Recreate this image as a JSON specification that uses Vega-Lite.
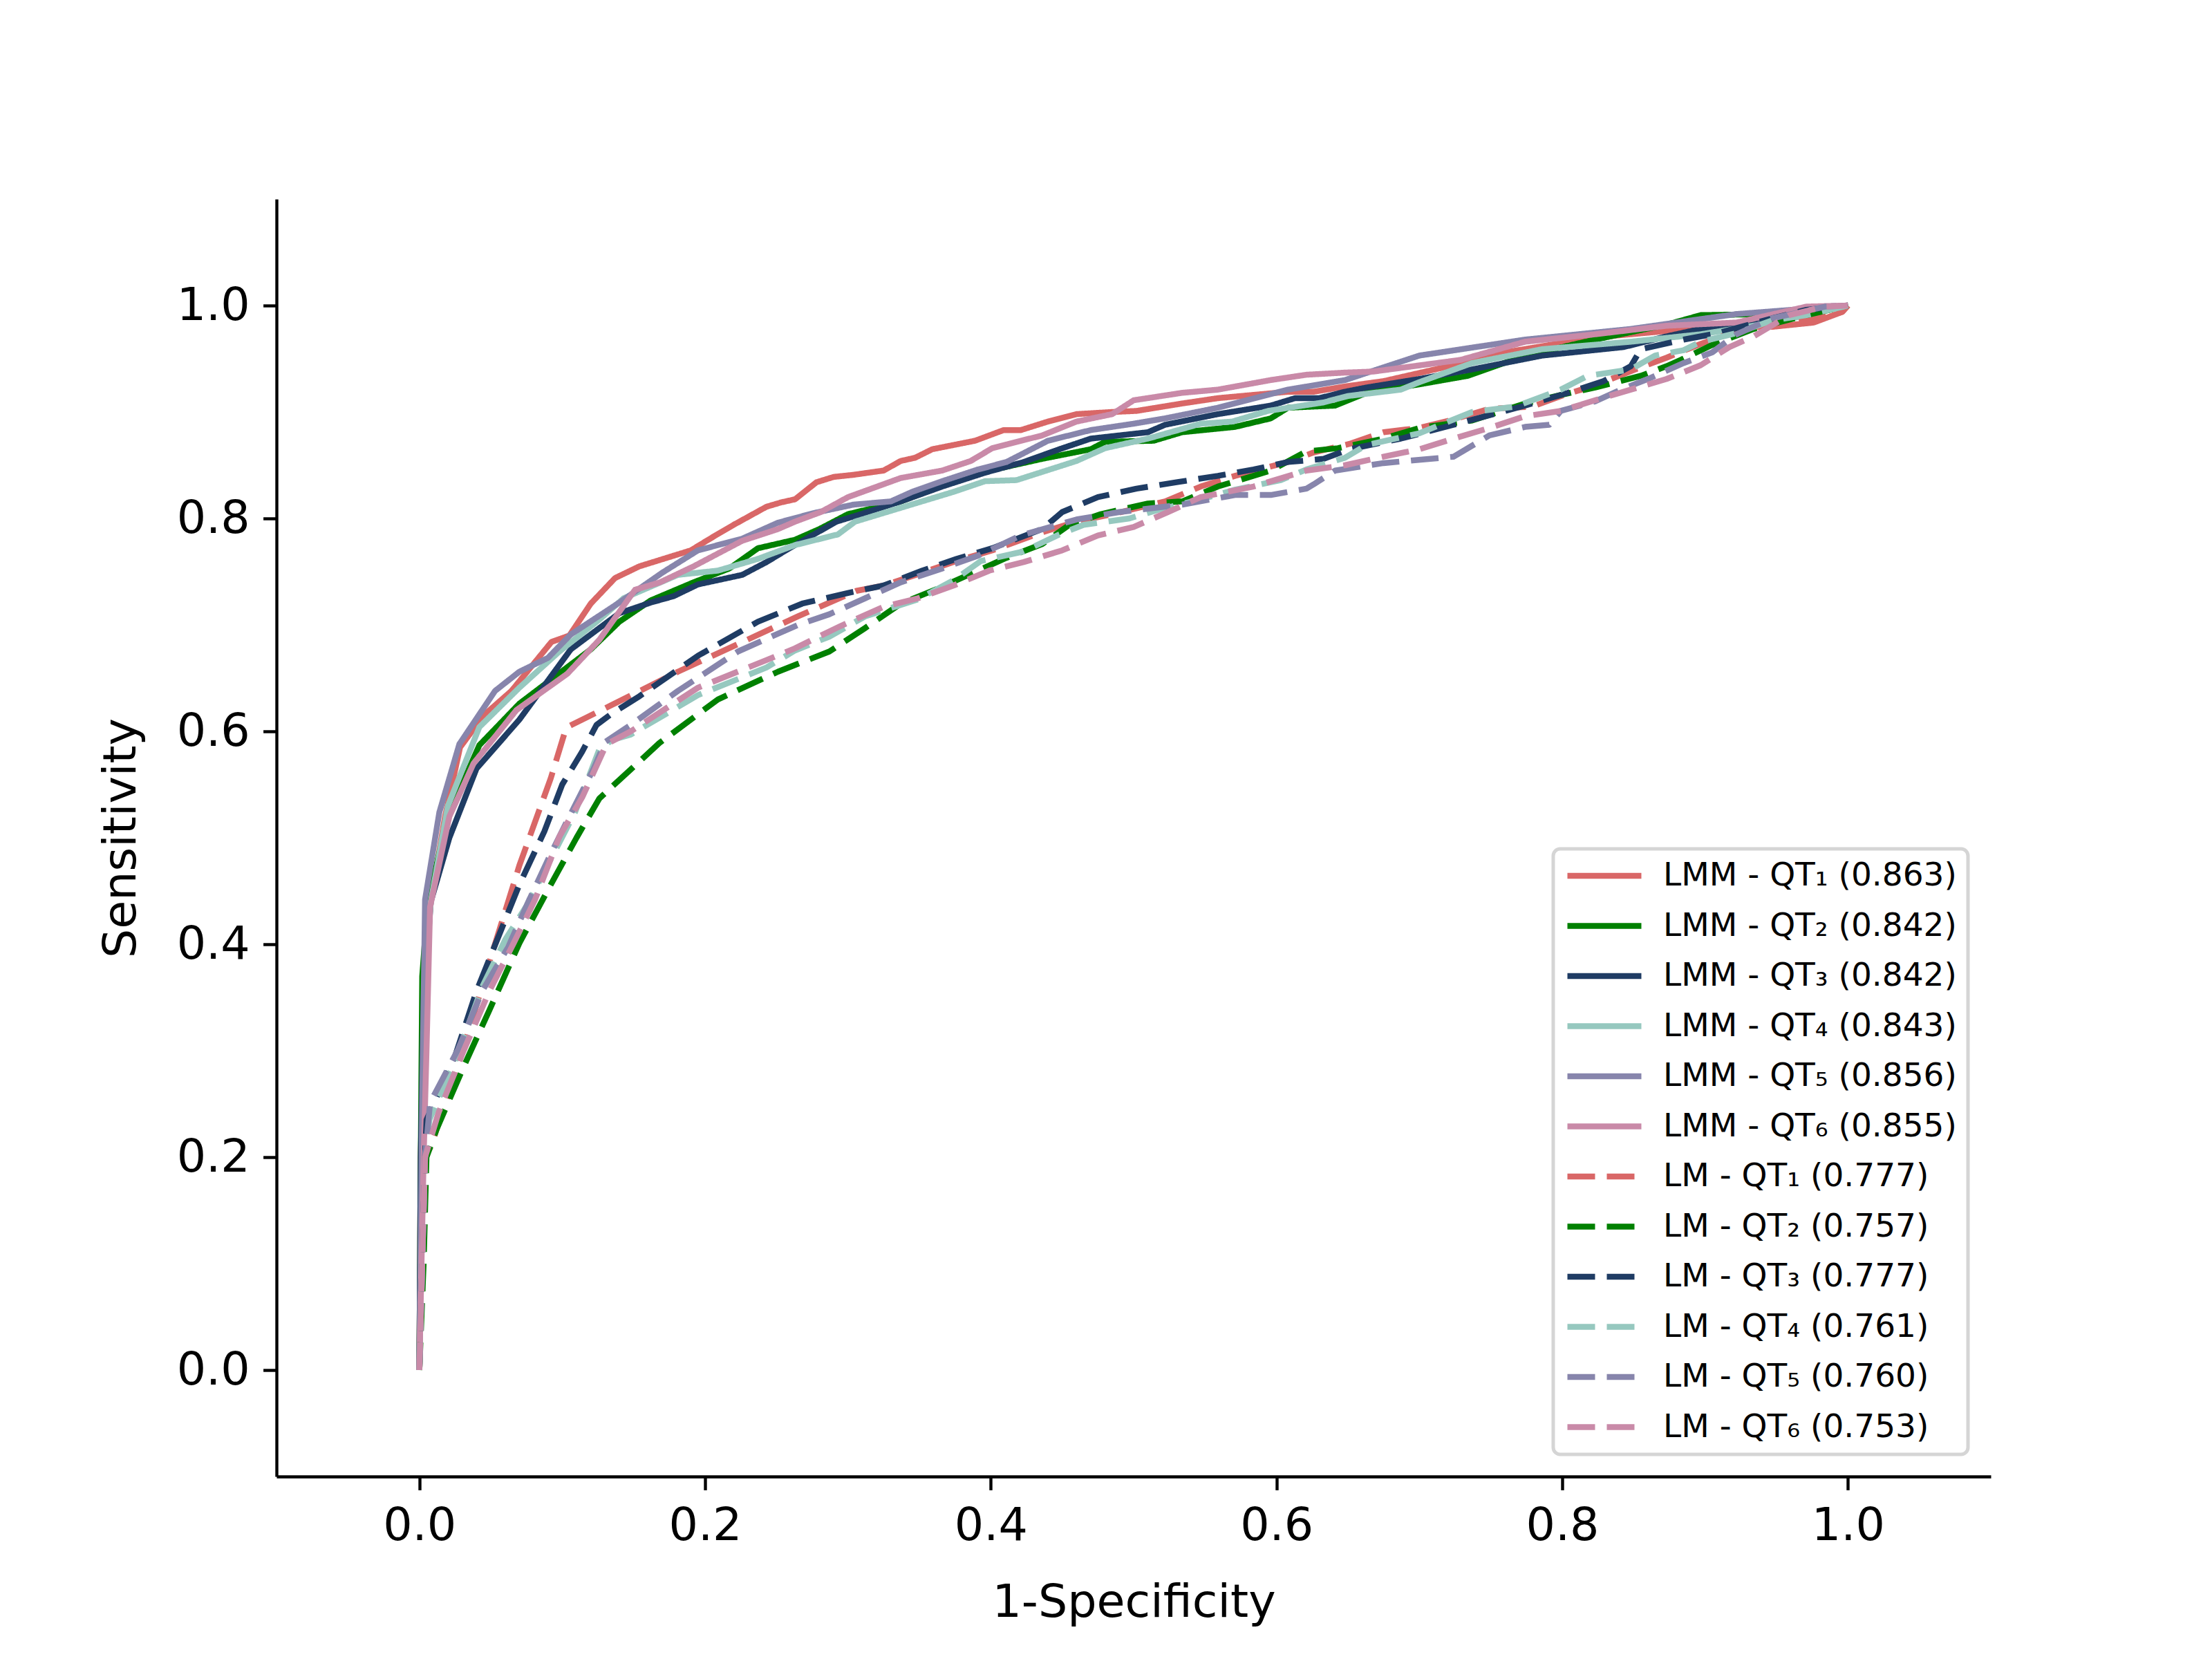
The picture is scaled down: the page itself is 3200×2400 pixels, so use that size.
{
  "$schema": "https://vega.github.io/schema/vega-lite/v6.json",
  "width": 2480,
  "height": 1848,
  "autosize": {"type": "none"},
  "padding": {"left": 400, "top": 288, "right": 320, "bottom": 264},
  "background": "white",
  "data": {
    "values": [
      {"s": "LMM - QT₁ (0.863)", "x": 0, "y": 0},
      {"s": "LMM - QT₁ (0.863)", "x": 0.001, "y": 0.2},
      {"s": "LMM - QT₁ (0.863)", "x": 0.004, "y": 0.38},
      {"s": "LMM - QT₁ (0.863)", "x": 0.008, "y": 0.44},
      {"s": "LMM - QT₁ (0.863)", "x": 0.018, "y": 0.52},
      {"s": "LMM - QT₁ (0.863)", "x": 0.0285, "y": 0.585},
      {"s": "LMM - QT₁ (0.863)", "x": 0.045, "y": 0.615},
      {"s": "LMM - QT₁ (0.863)", "x": 0.0645, "y": 0.638},
      {"s": "LMM - QT₁ (0.863)", "x": 0.0925, "y": 0.684},
      {"s": "LMM - QT₁ (0.863)", "x": 0.105, "y": 0.69},
      {"s": "LMM - QT₁ (0.863)", "x": 0.12, "y": 0.72},
      {"s": "LMM - QT₁ (0.863)", "x": 0.137, "y": 0.744},
      {"s": "LMM - QT₁ (0.863)", "x": 0.154, "y": 0.755},
      {"s": "LMM - QT₁ (0.863)", "x": 0.19, "y": 0.77},
      {"s": "LMM - QT₁ (0.863)", "x": 0.206, "y": 0.783},
      {"s": "LMM - QT₁ (0.863)", "x": 0.22, "y": 0.794},
      {"s": "LMM - QT₁ (0.863)", "x": 0.243, "y": 0.811},
      {"s": "LMM - QT₁ (0.863)", "x": 0.253, "y": 0.815},
      {"s": "LMM - QT₁ (0.863)", "x": 0.263, "y": 0.818},
      {"s": "LMM - QT₁ (0.863)", "x": 0.278, "y": 0.834},
      {"s": "LMM - QT₁ (0.863)", "x": 0.29, "y": 0.839},
      {"s": "LMM - QT₁ (0.863)", "x": 0.304, "y": 0.841},
      {"s": "LMM - QT₁ (0.863)", "x": 0.325, "y": 0.845},
      {"s": "LMM - QT₁ (0.863)", "x": 0.337, "y": 0.854},
      {"s": "LMM - QT₁ (0.863)", "x": 0.347, "y": 0.857},
      {"s": "LMM - QT₁ (0.863)", "x": 0.359, "y": 0.865},
      {"s": "LMM - QT₁ (0.863)", "x": 0.389, "y": 0.873},
      {"s": "LMM - QT₁ (0.863)", "x": 0.409, "y": 0.883},
      {"s": "LMM - QT₁ (0.863)", "x": 0.421, "y": 0.883},
      {"s": "LMM - QT₁ (0.863)", "x": 0.44, "y": 0.891},
      {"s": "LMM - QT₁ (0.863)", "x": 0.46, "y": 0.898},
      {"s": "LMM - QT₁ (0.863)", "x": 0.485, "y": 0.9},
      {"s": "LMM - QT₁ (0.863)", "x": 0.502, "y": 0.901},
      {"s": "LMM - QT₁ (0.863)", "x": 0.534, "y": 0.908},
      {"s": "LMM - QT₁ (0.863)", "x": 0.559, "y": 0.913},
      {"s": "LMM - QT₁ (0.863)", "x": 0.608, "y": 0.919},
      {"s": "LMM - QT₁ (0.863)", "x": 0.626, "y": 0.919},
      {"s": "LMM - QT₁ (0.863)", "x": 0.648, "y": 0.924},
      {"s": "LMM - QT₁ (0.863)", "x": 0.675, "y": 0.929},
      {"s": "LMM - QT₁ (0.863)", "x": 0.724, "y": 0.944},
      {"s": "LMM - QT₁ (0.863)", "x": 0.76, "y": 0.956},
      {"s": "LMM - QT₁ (0.863)", "x": 0.823, "y": 0.97},
      {"s": "LMM - QT₁ (0.863)", "x": 0.897, "y": 0.979},
      {"s": "LMM - QT₁ (0.863)", "x": 0.947, "y": 0.98},
      {"s": "LMM - QT₁ (0.863)", "x": 0.976, "y": 0.984},
      {"s": "LMM - QT₁ (0.863)", "x": 0.996, "y": 0.994},
      {"s": "LMM - QT₁ (0.863)", "x": 1, "y": 1},

      {"s": "LMM - QT₂ (0.842)", "x": 0, "y": 0},
      {"s": "LMM - QT₂ (0.842)", "x": 0.001, "y": 0.2},
      {"s": "LMM - QT₂ (0.842)", "x": 0.002, "y": 0.37},
      {"s": "LMM - QT₂ (0.842)", "x": 0.006, "y": 0.44},
      {"s": "LMM - QT₂ (0.842)", "x": 0.02, "y": 0.52},
      {"s": "LMM - QT₂ (0.842)", "x": 0.042, "y": 0.587},
      {"s": "LMM - QT₂ (0.842)", "x": 0.07, "y": 0.626},
      {"s": "LMM - QT₂ (0.842)", "x": 0.12, "y": 0.677},
      {"s": "LMM - QT₂ (0.842)", "x": 0.14, "y": 0.703},
      {"s": "LMM - QT₂ (0.842)", "x": 0.162, "y": 0.723},
      {"s": "LMM - QT₂ (0.842)", "x": 0.192, "y": 0.74},
      {"s": "LMM - QT₂ (0.842)", "x": 0.217, "y": 0.753},
      {"s": "LMM - QT₂ (0.842)", "x": 0.237, "y": 0.772},
      {"s": "LMM - QT₂ (0.842)", "x": 0.263, "y": 0.78},
      {"s": "LMM - QT₂ (0.842)", "x": 0.28, "y": 0.79},
      {"s": "LMM - QT₂ (0.842)", "x": 0.3, "y": 0.804},
      {"s": "LMM - QT₂ (0.842)", "x": 0.337, "y": 0.816},
      {"s": "LMM - QT₂ (0.842)", "x": 0.386, "y": 0.841},
      {"s": "LMM - QT₂ (0.842)", "x": 0.436, "y": 0.856},
      {"s": "LMM - QT₂ (0.842)", "x": 0.47, "y": 0.865},
      {"s": "LMM - QT₂ (0.842)", "x": 0.48, "y": 0.872},
      {"s": "LMM - QT₂ (0.842)", "x": 0.514, "y": 0.873},
      {"s": "LMM - QT₂ (0.842)", "x": 0.534, "y": 0.881},
      {"s": "LMM - QT₂ (0.842)", "x": 0.571, "y": 0.886},
      {"s": "LMM - QT₂ (0.842)", "x": 0.596, "y": 0.894},
      {"s": "LMM - QT₂ (0.842)", "x": 0.608, "y": 0.904},
      {"s": "LMM - QT₂ (0.842)", "x": 0.641, "y": 0.906},
      {"s": "LMM - QT₂ (0.842)", "x": 0.663, "y": 0.918},
      {"s": "LMM - QT₂ (0.842)", "x": 0.7, "y": 0.926},
      {"s": "LMM - QT₂ (0.842)", "x": 0.734, "y": 0.934},
      {"s": "LMM - QT₂ (0.842)", "x": 0.774, "y": 0.953},
      {"s": "LMM - QT₂ (0.842)", "x": 0.823, "y": 0.968},
      {"s": "LMM - QT₂ (0.842)", "x": 0.873, "y": 0.982},
      {"s": "LMM - QT₂ (0.842)", "x": 0.897, "y": 0.991},
      {"s": "LMM - QT₂ (0.842)", "x": 0.947, "y": 0.992},
      {"s": "LMM - QT₂ (0.842)", "x": 1, "y": 1},

      {"s": "LMM - QT₃ (0.842)", "x": 0, "y": 0},
      {"s": "LMM - QT₃ (0.842)", "x": 0.001, "y": 0.2},
      {"s": "LMM - QT₃ (0.842)", "x": 0.003, "y": 0.35},
      {"s": "LMM - QT₃ (0.842)", "x": 0.008, "y": 0.44},
      {"s": "LMM - QT₃ (0.842)", "x": 0.021, "y": 0.5},
      {"s": "LMM - QT₃ (0.842)", "x": 0.04, "y": 0.565},
      {"s": "LMM - QT₃ (0.842)", "x": 0.07, "y": 0.611},
      {"s": "LMM - QT₃ (0.842)", "x": 0.106, "y": 0.677},
      {"s": "LMM - QT₃ (0.842)", "x": 0.14, "y": 0.711},
      {"s": "LMM - QT₃ (0.842)", "x": 0.162, "y": 0.721},
      {"s": "LMM - QT₃ (0.842)", "x": 0.178, "y": 0.727},
      {"s": "LMM - QT₃ (0.842)", "x": 0.195, "y": 0.738},
      {"s": "LMM - QT₃ (0.842)", "x": 0.226, "y": 0.747},
      {"s": "LMM - QT₃ (0.842)", "x": 0.243, "y": 0.759},
      {"s": "LMM - QT₃ (0.842)", "x": 0.259, "y": 0.772},
      {"s": "LMM - QT₃ (0.842)", "x": 0.292, "y": 0.797},
      {"s": "LMM - QT₃ (0.842)", "x": 0.309, "y": 0.804},
      {"s": "LMM - QT₃ (0.842)", "x": 0.337, "y": 0.816},
      {"s": "LMM - QT₃ (0.842)", "x": 0.366, "y": 0.83},
      {"s": "LMM - QT₃ (0.842)", "x": 0.396, "y": 0.843},
      {"s": "LMM - QT₃ (0.842)", "x": 0.423, "y": 0.853},
      {"s": "LMM - QT₃ (0.842)", "x": 0.448, "y": 0.865},
      {"s": "LMM - QT₃ (0.842)", "x": 0.47, "y": 0.875},
      {"s": "LMM - QT₃ (0.842)", "x": 0.51, "y": 0.881},
      {"s": "LMM - QT₃ (0.842)", "x": 0.522, "y": 0.888},
      {"s": "LMM - QT₃ (0.842)", "x": 0.559, "y": 0.898},
      {"s": "LMM - QT₃ (0.842)", "x": 0.596, "y": 0.906},
      {"s": "LMM - QT₃ (0.842)", "x": 0.613, "y": 0.913},
      {"s": "LMM - QT₃ (0.842)", "x": 0.63, "y": 0.913},
      {"s": "LMM - QT₃ (0.842)", "x": 0.648, "y": 0.919},
      {"s": "LMM - QT₃ (0.842)", "x": 0.663, "y": 0.923},
      {"s": "LMM - QT₃ (0.842)", "x": 0.7, "y": 0.931},
      {"s": "LMM - QT₃ (0.842)", "x": 0.737, "y": 0.94},
      {"s": "LMM - QT₃ (0.842)", "x": 0.786, "y": 0.953},
      {"s": "LMM - QT₃ (0.842)", "x": 0.843, "y": 0.961},
      {"s": "LMM - QT₃ (0.842)", "x": 0.873, "y": 0.971},
      {"s": "LMM - QT₃ (0.842)", "x": 0.897, "y": 0.978},
      {"s": "LMM - QT₃ (0.842)", "x": 0.927, "y": 0.983},
      {"s": "LMM - QT₃ (0.842)", "x": 0.947, "y": 0.989},
      {"s": "LMM - QT₃ (0.842)", "x": 0.971, "y": 0.996},
      {"s": "LMM - QT₃ (0.842)", "x": 1, "y": 1},

      {"s": "LMM - QT₄ (0.843)", "x": 0, "y": 0},
      {"s": "LMM - QT₄ (0.843)", "x": 0.002, "y": 0.2},
      {"s": "LMM - QT₄ (0.843)", "x": 0.004, "y": 0.36},
      {"s": "LMM - QT₄ (0.843)", "x": 0.008, "y": 0.44},
      {"s": "LMM - QT₄ (0.843)", "x": 0.02, "y": 0.53},
      {"s": "LMM - QT₄ (0.843)", "x": 0.042, "y": 0.604},
      {"s": "LMM - QT₄ (0.843)", "x": 0.07, "y": 0.641},
      {"s": "LMM - QT₄ (0.843)", "x": 0.098, "y": 0.675},
      {"s": "LMM - QT₄ (0.843)", "x": 0.126, "y": 0.705},
      {"s": "LMM - QT₄ (0.843)", "x": 0.143, "y": 0.725},
      {"s": "LMM - QT₄ (0.843)", "x": 0.181, "y": 0.747},
      {"s": "LMM - QT₄ (0.843)", "x": 0.209, "y": 0.751},
      {"s": "LMM - QT₄ (0.843)", "x": 0.237, "y": 0.762},
      {"s": "LMM - QT₄ (0.843)", "x": 0.263, "y": 0.775},
      {"s": "LMM - QT₄ (0.843)", "x": 0.293, "y": 0.785},
      {"s": "LMM - QT₄ (0.843)", "x": 0.305, "y": 0.797},
      {"s": "LMM - QT₄ (0.843)", "x": 0.337, "y": 0.81},
      {"s": "LMM - QT₄ (0.843)", "x": 0.374, "y": 0.825},
      {"s": "LMM - QT₄ (0.843)", "x": 0.396, "y": 0.835},
      {"s": "LMM - QT₄ (0.843)", "x": 0.418, "y": 0.836},
      {"s": "LMM - QT₄ (0.843)", "x": 0.46, "y": 0.854},
      {"s": "LMM - QT₄ (0.843)", "x": 0.48, "y": 0.866},
      {"s": "LMM - QT₄ (0.843)", "x": 0.51, "y": 0.875},
      {"s": "LMM - QT₄ (0.843)", "x": 0.547, "y": 0.889},
      {"s": "LMM - QT₄ (0.843)", "x": 0.569, "y": 0.891},
      {"s": "LMM - QT₄ (0.843)", "x": 0.594, "y": 0.901},
      {"s": "LMM - QT₄ (0.843)", "x": 0.633, "y": 0.909},
      {"s": "LMM - QT₄ (0.843)", "x": 0.65, "y": 0.915},
      {"s": "LMM - QT₄ (0.843)", "x": 0.687, "y": 0.921},
      {"s": "LMM - QT₄ (0.843)", "x": 0.7, "y": 0.928},
      {"s": "LMM - QT₄ (0.843)", "x": 0.737, "y": 0.946},
      {"s": "LMM - QT₄ (0.843)", "x": 0.786, "y": 0.959},
      {"s": "LMM - QT₄ (0.843)", "x": 0.848, "y": 0.966},
      {"s": "LMM - QT₄ (0.843)", "x": 0.897, "y": 0.973},
      {"s": "LMM - QT₄ (0.843)", "x": 0.947, "y": 0.984},
      {"s": "LMM - QT₄ (0.843)", "x": 0.971, "y": 0.991},
      {"s": "LMM - QT₄ (0.843)", "x": 1, "y": 1},

      {"s": "LMM - QT₅ (0.856)", "x": 0, "y": 0},
      {"s": "LMM - QT₅ (0.856)", "x": 0.002, "y": 0.25},
      {"s": "LMM - QT₅ (0.856)", "x": 0.004, "y": 0.442},
      {"s": "LMM - QT₅ (0.856)", "x": 0.014, "y": 0.524},
      {"s": "LMM - QT₅ (0.856)", "x": 0.028, "y": 0.588},
      {"s": "LMM - QT₅ (0.856)", "x": 0.053, "y": 0.638},
      {"s": "LMM - QT₅ (0.856)", "x": 0.07, "y": 0.656},
      {"s": "LMM - QT₅ (0.856)", "x": 0.09, "y": 0.669},
      {"s": "LMM - QT₅ (0.856)", "x": 0.106, "y": 0.691},
      {"s": "LMM - QT₅ (0.856)", "x": 0.14, "y": 0.721},
      {"s": "LMM - QT₅ (0.856)", "x": 0.17, "y": 0.749},
      {"s": "LMM - QT₅ (0.856)", "x": 0.195, "y": 0.77},
      {"s": "LMM - QT₅ (0.856)", "x": 0.226, "y": 0.781},
      {"s": "LMM - QT₅ (0.856)", "x": 0.251, "y": 0.796},
      {"s": "LMM - QT₅ (0.856)", "x": 0.276, "y": 0.805},
      {"s": "LMM - QT₅ (0.856)", "x": 0.304, "y": 0.813},
      {"s": "LMM - QT₅ (0.856)", "x": 0.33, "y": 0.816},
      {"s": "LMM - QT₅ (0.856)", "x": 0.345, "y": 0.825},
      {"s": "LMM - QT₅ (0.856)", "x": 0.366, "y": 0.835},
      {"s": "LMM - QT₅ (0.856)", "x": 0.391, "y": 0.846},
      {"s": "LMM - QT₅ (0.856)", "x": 0.411, "y": 0.853},
      {"s": "LMM - QT₅ (0.856)", "x": 0.44, "y": 0.873},
      {"s": "LMM - QT₅ (0.856)", "x": 0.47, "y": 0.883},
      {"s": "LMM - QT₅ (0.856)", "x": 0.5, "y": 0.889},
      {"s": "LMM - QT₅ (0.856)", "x": 0.522, "y": 0.894},
      {"s": "LMM - QT₅ (0.856)", "x": 0.559, "y": 0.904},
      {"s": "LMM - QT₅ (0.856)", "x": 0.608, "y": 0.921},
      {"s": "LMM - QT₅ (0.856)", "x": 0.626, "y": 0.925},
      {"s": "LMM - QT₅ (0.856)", "x": 0.648, "y": 0.93},
      {"s": "LMM - QT₅ (0.856)", "x": 0.7, "y": 0.953},
      {"s": "LMM - QT₅ (0.856)", "x": 0.774, "y": 0.968},
      {"s": "LMM - QT₅ (0.856)", "x": 0.848, "y": 0.978},
      {"s": "LMM - QT₅ (0.856)", "x": 0.922, "y": 0.992},
      {"s": "LMM - QT₅ (0.856)", "x": 1, "y": 1},

      {"s": "LMM - QT₆ (0.855)", "x": 0, "y": 0},
      {"s": "LMM - QT₆ (0.855)", "x": 0.003, "y": 0.2},
      {"s": "LMM - QT₆ (0.855)", "x": 0.005, "y": 0.3},
      {"s": "LMM - QT₆ (0.855)", "x": 0.0075, "y": 0.435},
      {"s": "LMM - QT₆ (0.855)", "x": 0.021, "y": 0.52},
      {"s": "LMM - QT₆ (0.855)", "x": 0.038, "y": 0.57},
      {"s": "LMM - QT₆ (0.855)", "x": 0.068, "y": 0.62},
      {"s": "LMM - QT₆ (0.855)", "x": 0.1035, "y": 0.654},
      {"s": "LMM - QT₆ (0.855)", "x": 0.126, "y": 0.686},
      {"s": "LMM - QT₆ (0.855)", "x": 0.151, "y": 0.733},
      {"s": "LMM - QT₆ (0.855)", "x": 0.1685, "y": 0.74},
      {"s": "LMM - QT₆ (0.855)", "x": 0.192, "y": 0.755},
      {"s": "LMM - QT₆ (0.855)", "x": 0.226, "y": 0.779},
      {"s": "LMM - QT₆ (0.855)", "x": 0.251, "y": 0.79},
      {"s": "LMM - QT₆ (0.855)", "x": 0.263, "y": 0.797},
      {"s": "LMM - QT₆ (0.855)", "x": 0.281, "y": 0.806},
      {"s": "LMM - QT₆ (0.855)", "x": 0.3, "y": 0.82},
      {"s": "LMM - QT₆ (0.855)", "x": 0.337, "y": 0.838},
      {"s": "LMM - QT₆ (0.855)", "x": 0.366, "y": 0.845},
      {"s": "LMM - QT₆ (0.855)", "x": 0.386, "y": 0.854},
      {"s": "LMM - QT₆ (0.855)", "x": 0.401, "y": 0.866},
      {"s": "LMM - QT₆ (0.855)", "x": 0.436, "y": 0.878},
      {"s": "LMM - QT₆ (0.855)", "x": 0.46, "y": 0.891},
      {"s": "LMM - QT₆ (0.855)", "x": 0.485, "y": 0.898},
      {"s": "LMM - QT₆ (0.855)", "x": 0.5, "y": 0.911},
      {"s": "LMM - QT₆ (0.855)", "x": 0.534, "y": 0.918},
      {"s": "LMM - QT₆ (0.855)", "x": 0.559, "y": 0.921},
      {"s": "LMM - QT₆ (0.855)", "x": 0.596, "y": 0.93},
      {"s": "LMM - QT₆ (0.855)", "x": 0.621, "y": 0.935},
      {"s": "LMM - QT₆ (0.855)", "x": 0.648, "y": 0.937},
      {"s": "LMM - QT₆ (0.855)", "x": 0.668, "y": 0.938},
      {"s": "LMM - QT₆ (0.855)", "x": 0.729, "y": 0.949},
      {"s": "LMM - QT₆ (0.855)", "x": 0.774, "y": 0.966},
      {"s": "LMM - QT₆ (0.855)", "x": 0.823, "y": 0.973},
      {"s": "LMM - QT₆ (0.855)", "x": 0.873, "y": 0.981},
      {"s": "LMM - QT₆ (0.855)", "x": 0.922, "y": 0.984},
      {"s": "LMM - QT₆ (0.855)", "x": 0.971, "y": 0.999},
      {"s": "LMM - QT₆ (0.855)", "x": 1, "y": 1},

      {"s": "LM - QT₁ (0.777)", "x": 0, "y": 0},
      {"s": "LM - QT₁ (0.777)", "x": 0.002, "y": 0.1},
      {"s": "LM - QT₁ (0.777)", "x": 0.004, "y": 0.2},
      {"s": "LM - QT₁ (0.777)", "x": 0.008, "y": 0.21},
      {"s": "LM - QT₁ (0.777)", "x": 0.027, "y": 0.285},
      {"s": "LM - QT₁ (0.777)", "x": 0.049, "y": 0.383},
      {"s": "LM - QT₁ (0.777)", "x": 0.07, "y": 0.474},
      {"s": "LM - QT₁ (0.777)", "x": 0.092, "y": 0.556},
      {"s": "LM - QT₁ (0.777)", "x": 0.102, "y": 0.6},
      {"s": "LM - QT₁ (0.777)", "x": 0.1035, "y": 0.604},
      {"s": "LM - QT₁ (0.777)", "x": 0.117, "y": 0.613},
      {"s": "LM - QT₁ (0.777)", "x": 0.153, "y": 0.637},
      {"s": "LM - QT₁ (0.777)", "x": 0.181, "y": 0.656},
      {"s": "LM - QT₁ (0.777)", "x": 0.223, "y": 0.682},
      {"s": "LM - QT₁ (0.777)", "x": 0.265, "y": 0.708},
      {"s": "LM - QT₁ (0.777)", "x": 0.306, "y": 0.732},
      {"s": "LM - QT₁ (0.777)", "x": 0.325, "y": 0.737},
      {"s": "LM - QT₁ (0.777)", "x": 0.352, "y": 0.749},
      {"s": "LM - QT₁ (0.777)", "x": 0.376, "y": 0.76},
      {"s": "LM - QT₁ (0.777)", "x": 0.401, "y": 0.77},
      {"s": "LM - QT₁ (0.777)", "x": 0.436, "y": 0.787},
      {"s": "LM - QT₁ (0.777)", "x": 0.46, "y": 0.797},
      {"s": "LM - QT₁ (0.777)", "x": 0.485, "y": 0.804},
      {"s": "LM - QT₁ (0.777)", "x": 0.522, "y": 0.816},
      {"s": "LM - QT₁ (0.777)", "x": 0.547, "y": 0.83},
      {"s": "LM - QT₁ (0.777)", "x": 0.571, "y": 0.84},
      {"s": "LM - QT₁ (0.777)", "x": 0.608, "y": 0.853},
      {"s": "LM - QT₁ (0.777)", "x": 0.626, "y": 0.862},
      {"s": "LM - QT₁ (0.777)", "x": 0.651, "y": 0.87},
      {"s": "LM - QT₁ (0.777)", "x": 0.675, "y": 0.881},
      {"s": "LM - QT₁ (0.777)", "x": 0.7, "y": 0.885},
      {"s": "LM - QT₁ (0.777)", "x": 0.724, "y": 0.893},
      {"s": "LM - QT₁ (0.777)", "x": 0.749, "y": 0.903},
      {"s": "LM - QT₁ (0.777)", "x": 0.779, "y": 0.905},
      {"s": "LM - QT₁ (0.777)", "x": 0.799, "y": 0.915},
      {"s": "LM - QT₁ (0.777)", "x": 0.823, "y": 0.925},
      {"s": "LM - QT₁ (0.777)", "x": 0.853, "y": 0.941},
      {"s": "LM - QT₁ (0.777)", "x": 0.873, "y": 0.951},
      {"s": "LM - QT₁ (0.777)", "x": 0.897, "y": 0.964},
      {"s": "LM - QT₁ (0.777)", "x": 0.922, "y": 0.976},
      {"s": "LM - QT₁ (0.777)", "x": 0.947, "y": 0.983},
      {"s": "LM - QT₁ (0.777)", "x": 0.971, "y": 0.986},
      {"s": "LM - QT₁ (0.777)", "x": 0.996, "y": 0.994},
      {"s": "LM - QT₁ (0.777)", "x": 1, "y": 1},

      {"s": "LM - QT₂ (0.757)", "x": 0, "y": 0},
      {"s": "LM - QT₂ (0.757)", "x": 0.003, "y": 0.1},
      {"s": "LM - QT₂ (0.757)", "x": 0.005, "y": 0.2},
      {"s": "LM - QT₂ (0.757)", "x": 0.012, "y": 0.226},
      {"s": "LM - QT₂ (0.757)", "x": 0.031, "y": 0.285},
      {"s": "LM - QT₂ (0.757)", "x": 0.049, "y": 0.338},
      {"s": "LM - QT₂ (0.757)", "x": 0.07, "y": 0.401},
      {"s": "LM - QT₂ (0.757)", "x": 0.092, "y": 0.456},
      {"s": "LM - QT₂ (0.757)", "x": 0.11, "y": 0.5},
      {"s": "LM - QT₂ (0.757)", "x": 0.126, "y": 0.537},
      {"s": "LM - QT₂ (0.757)", "x": 0.168, "y": 0.589},
      {"s": "LM - QT₂ (0.757)", "x": 0.209, "y": 0.63},
      {"s": "LM - QT₂ (0.757)", "x": 0.251, "y": 0.656},
      {"s": "LM - QT₂ (0.757)", "x": 0.287, "y": 0.675},
      {"s": "LM - QT₂ (0.757)", "x": 0.312, "y": 0.697},
      {"s": "LM - QT₂ (0.757)", "x": 0.337, "y": 0.72},
      {"s": "LM - QT₂ (0.757)", "x": 0.361, "y": 0.733},
      {"s": "LM - QT₂ (0.757)", "x": 0.386, "y": 0.748},
      {"s": "LM - QT₂ (0.757)", "x": 0.411, "y": 0.763},
      {"s": "LM - QT₂ (0.757)", "x": 0.436, "y": 0.776},
      {"s": "LM - QT₂ (0.757)", "x": 0.455, "y": 0.794},
      {"s": "LM - QT₂ (0.757)", "x": 0.477, "y": 0.804},
      {"s": "LM - QT₂ (0.757)", "x": 0.51, "y": 0.814},
      {"s": "LM - QT₂ (0.757)", "x": 0.534, "y": 0.816},
      {"s": "LM - QT₂ (0.757)", "x": 0.559, "y": 0.83},
      {"s": "LM - QT₂ (0.757)", "x": 0.574, "y": 0.836},
      {"s": "LM - QT₂ (0.757)", "x": 0.596, "y": 0.845},
      {"s": "LM - QT₂ (0.757)", "x": 0.621, "y": 0.863},
      {"s": "LM - QT₂ (0.757)", "x": 0.643, "y": 0.866},
      {"s": "LM - QT₂ (0.757)", "x": 0.675, "y": 0.875},
      {"s": "LM - QT₂ (0.757)", "x": 0.7, "y": 0.885},
      {"s": "LM - QT₂ (0.757)", "x": 0.737, "y": 0.892},
      {"s": "LM - QT₂ (0.757)", "x": 0.774, "y": 0.908},
      {"s": "LM - QT₂ (0.757)", "x": 0.799, "y": 0.916},
      {"s": "LM - QT₂ (0.757)", "x": 0.823, "y": 0.923},
      {"s": "LM - QT₂ (0.757)", "x": 0.855, "y": 0.934},
      {"s": "LM - QT₂ (0.757)", "x": 0.873, "y": 0.943},
      {"s": "LM - QT₂ (0.757)", "x": 0.883, "y": 0.949},
      {"s": "LM - QT₂ (0.757)", "x": 0.905, "y": 0.963},
      {"s": "LM - QT₂ (0.757)", "x": 0.934, "y": 0.978},
      {"s": "LM - QT₂ (0.757)", "x": 0.971, "y": 0.991},
      {"s": "LM - QT₂ (0.757)", "x": 1, "y": 1},

      {"s": "LM - QT₃ (0.777)", "x": 0, "y": 0},
      {"s": "LM - QT₃ (0.777)", "x": 0.002, "y": 0.1},
      {"s": "LM - QT₃ (0.777)", "x": 0.004, "y": 0.2},
      {"s": "LM - QT₃ (0.777)", "x": 0.005, "y": 0.235},
      {"s": "LM - QT₃ (0.777)", "x": 0.025, "y": 0.295},
      {"s": "LM - QT₃ (0.777)", "x": 0.04, "y": 0.356},
      {"s": "LM - QT₃ (0.777)", "x": 0.07, "y": 0.456},
      {"s": "LM - QT₃ (0.777)", "x": 0.0875, "y": 0.506},
      {"s": "LM - QT₃ (0.777)", "x": 0.1, "y": 0.55},
      {"s": "LM - QT₃ (0.777)", "x": 0.114, "y": 0.581},
      {"s": "LM - QT₃ (0.777)", "x": 0.124, "y": 0.606},
      {"s": "LM - QT₃ (0.777)", "x": 0.135, "y": 0.617},
      {"s": "LM - QT₃ (0.777)", "x": 0.153, "y": 0.632},
      {"s": "LM - QT₃ (0.777)", "x": 0.195, "y": 0.671},
      {"s": "LM - QT₃ (0.777)", "x": 0.237, "y": 0.703},
      {"s": "LM - QT₃ (0.777)", "x": 0.268, "y": 0.72},
      {"s": "LM - QT₃ (0.777)", "x": 0.3, "y": 0.73},
      {"s": "LM - QT₃ (0.777)", "x": 0.325, "y": 0.737},
      {"s": "LM - QT₃ (0.777)", "x": 0.352, "y": 0.751},
      {"s": "LM - QT₃ (0.777)", "x": 0.376, "y": 0.762},
      {"s": "LM - QT₃ (0.777)", "x": 0.401, "y": 0.772},
      {"s": "LM - QT₃ (0.777)", "x": 0.436, "y": 0.79},
      {"s": "LM - QT₃ (0.777)", "x": 0.45, "y": 0.806},
      {"s": "LM - QT₃ (0.777)", "x": 0.475, "y": 0.82},
      {"s": "LM - QT₃ (0.777)", "x": 0.502, "y": 0.828},
      {"s": "LM - QT₃ (0.777)", "x": 0.53, "y": 0.834},
      {"s": "LM - QT₃ (0.777)", "x": 0.559, "y": 0.84},
      {"s": "LM - QT₃ (0.777)", "x": 0.584, "y": 0.846},
      {"s": "LM - QT₃ (0.777)", "x": 0.608, "y": 0.853},
      {"s": "LM - QT₃ (0.777)", "x": 0.633, "y": 0.856},
      {"s": "LM - QT₃ (0.777)", "x": 0.651, "y": 0.865},
      {"s": "LM - QT₃ (0.777)", "x": 0.687, "y": 0.875},
      {"s": "LM - QT₃ (0.777)", "x": 0.724, "y": 0.888},
      {"s": "LM - QT₃ (0.777)", "x": 0.774, "y": 0.906},
      {"s": "LM - QT₃ (0.777)", "x": 0.804, "y": 0.918},
      {"s": "LM - QT₃ (0.777)", "x": 0.829, "y": 0.929},
      {"s": "LM - QT₃ (0.777)", "x": 0.848, "y": 0.943},
      {"s": "LM - QT₃ (0.777)", "x": 0.855, "y": 0.959},
      {"s": "LM - QT₃ (0.777)", "x": 0.885, "y": 0.968},
      {"s": "LM - QT₃ (0.777)", "x": 0.909, "y": 0.974},
      {"s": "LM - QT₃ (0.777)", "x": 0.947, "y": 0.988},
      {"s": "LM - QT₃ (0.777)", "x": 0.971, "y": 0.996},
      {"s": "LM - QT₃ (0.777)", "x": 1, "y": 1},

      {"s": "LM - QT₄ (0.761)", "x": 0, "y": 0},
      {"s": "LM - QT₄ (0.761)", "x": 0.002, "y": 0.1},
      {"s": "LM - QT₄ (0.761)", "x": 0.004, "y": 0.2},
      {"s": "LM - QT₄ (0.761)", "x": 0.007, "y": 0.235},
      {"s": "LM - QT₄ (0.761)", "x": 0.025, "y": 0.29},
      {"s": "LM - QT₄ (0.761)", "x": 0.044, "y": 0.36},
      {"s": "LM - QT₄ (0.761)", "x": 0.06, "y": 0.404},
      {"s": "LM - QT₄ (0.761)", "x": 0.075, "y": 0.436},
      {"s": "LM - QT₄ (0.761)", "x": 0.092, "y": 0.48},
      {"s": "LM - QT₄ (0.761)", "x": 0.109, "y": 0.524},
      {"s": "LM - QT₄ (0.761)", "x": 0.126, "y": 0.583},
      {"s": "LM - QT₄ (0.761)", "x": 0.135, "y": 0.592},
      {"s": "LM - QT₄ (0.761)", "x": 0.148, "y": 0.597},
      {"s": "LM - QT₄ (0.761)", "x": 0.195, "y": 0.634},
      {"s": "LM - QT₄ (0.761)", "x": 0.243, "y": 0.66},
      {"s": "LM - QT₄ (0.761)", "x": 0.263, "y": 0.676},
      {"s": "LM - QT₄ (0.761)", "x": 0.287, "y": 0.689},
      {"s": "LM - QT₄ (0.761)", "x": 0.312, "y": 0.708},
      {"s": "LM - QT₄ (0.761)", "x": 0.349, "y": 0.724},
      {"s": "LM - QT₄ (0.761)", "x": 0.374, "y": 0.742},
      {"s": "LM - QT₄ (0.761)", "x": 0.393, "y": 0.76},
      {"s": "LM - QT₄ (0.761)", "x": 0.423, "y": 0.769},
      {"s": "LM - QT₄ (0.761)", "x": 0.448, "y": 0.785},
      {"s": "LM - QT₄ (0.761)", "x": 0.465, "y": 0.794},
      {"s": "LM - QT₄ (0.761)", "x": 0.497, "y": 0.8},
      {"s": "LM - QT₄ (0.761)", "x": 0.517, "y": 0.808},
      {"s": "LM - QT₄ (0.761)", "x": 0.547, "y": 0.818},
      {"s": "LM - QT₄ (0.761)", "x": 0.571, "y": 0.827},
      {"s": "LM - QT₄ (0.761)", "x": 0.603, "y": 0.836},
      {"s": "LM - QT₄ (0.761)", "x": 0.621, "y": 0.846},
      {"s": "LM - QT₄ (0.761)", "x": 0.648, "y": 0.857},
      {"s": "LM - QT₄ (0.761)", "x": 0.663, "y": 0.869},
      {"s": "LM - QT₄ (0.761)", "x": 0.7, "y": 0.88},
      {"s": "LM - QT₄ (0.761)", "x": 0.737, "y": 0.9},
      {"s": "LM - QT₄ (0.761)", "x": 0.767, "y": 0.905},
      {"s": "LM - QT₄ (0.761)", "x": 0.799, "y": 0.921},
      {"s": "LM - QT₄ (0.761)", "x": 0.818, "y": 0.934},
      {"s": "LM - QT₄ (0.761)", "x": 0.848, "y": 0.94},
      {"s": "LM - QT₄ (0.761)", "x": 0.865, "y": 0.953},
      {"s": "LM - QT₄ (0.761)", "x": 0.885, "y": 0.958},
      {"s": "LM - QT₄ (0.761)", "x": 0.897, "y": 0.966},
      {"s": "LM - QT₄ (0.761)", "x": 0.922, "y": 0.974},
      {"s": "LM - QT₄ (0.761)", "x": 0.947, "y": 0.986},
      {"s": "LM - QT₄ (0.761)", "x": 0.971, "y": 0.991},
      {"s": "LM - QT₄ (0.761)", "x": 1, "y": 1},

      {"s": "LM - QT₅ (0.760)", "x": 0, "y": 0},
      {"s": "LM - QT₅ (0.760)", "x": 0.002, "y": 0.1},
      {"s": "LM - QT₅ (0.760)", "x": 0.004, "y": 0.2},
      {"s": "LM - QT₅ (0.760)", "x": 0.0075, "y": 0.251},
      {"s": "LM - QT₅ (0.760)", "x": 0.027, "y": 0.301},
      {"s": "LM - QT₅ (0.760)", "x": 0.044, "y": 0.356},
      {"s": "LM - QT₅ (0.760)", "x": 0.062, "y": 0.397},
      {"s": "LM - QT₅ (0.760)", "x": 0.077, "y": 0.442},
      {"s": "LM - QT₅ (0.760)", "x": 0.092, "y": 0.485},
      {"s": "LM - QT₅ (0.760)", "x": 0.105, "y": 0.52},
      {"s": "LM - QT₅ (0.760)", "x": 0.122, "y": 0.565},
      {"s": "LM - QT₅ (0.760)", "x": 0.13, "y": 0.59},
      {"s": "LM - QT₅ (0.760)", "x": 0.148, "y": 0.606},
      {"s": "LM - QT₅ (0.760)", "x": 0.181, "y": 0.638},
      {"s": "LM - QT₅ (0.760)", "x": 0.223, "y": 0.675},
      {"s": "LM - QT₅ (0.760)", "x": 0.265, "y": 0.7},
      {"s": "LM - QT₅ (0.760)", "x": 0.287, "y": 0.71},
      {"s": "LM - QT₅ (0.760)", "x": 0.312, "y": 0.725},
      {"s": "LM - QT₅ (0.760)", "x": 0.337, "y": 0.74},
      {"s": "LM - QT₅ (0.760)", "x": 0.366, "y": 0.753},
      {"s": "LM - QT₅ (0.760)", "x": 0.391, "y": 0.765},
      {"s": "LM - QT₅ (0.760)", "x": 0.421, "y": 0.784},
      {"s": "LM - QT₅ (0.760)", "x": 0.46, "y": 0.799},
      {"s": "LM - QT₅ (0.760)", "x": 0.49, "y": 0.806},
      {"s": "LM - QT₅ (0.760)", "x": 0.534, "y": 0.813},
      {"s": "LM - QT₅ (0.760)", "x": 0.571, "y": 0.822},
      {"s": "LM - QT₅ (0.760)", "x": 0.596, "y": 0.822},
      {"s": "LM - QT₅ (0.760)", "x": 0.621, "y": 0.828},
      {"s": "LM - QT₅ (0.760)", "x": 0.626, "y": 0.832},
      {"s": "LM - QT₅ (0.760)", "x": 0.641, "y": 0.845},
      {"s": "LM - QT₅ (0.760)", "x": 0.675, "y": 0.852},
      {"s": "LM - QT₅ (0.760)", "x": 0.724, "y": 0.858},
      {"s": "LM - QT₅ (0.760)", "x": 0.749, "y": 0.878},
      {"s": "LM - QT₅ (0.760)", "x": 0.774, "y": 0.886},
      {"s": "LM - QT₅ (0.760)", "x": 0.791, "y": 0.888},
      {"s": "LM - QT₅ (0.760)", "x": 0.799, "y": 0.901},
      {"s": "LM - QT₅ (0.760)", "x": 0.823, "y": 0.91},
      {"s": "LM - QT₅ (0.760)", "x": 0.841, "y": 0.921},
      {"s": "LM - QT₅ (0.760)", "x": 0.86, "y": 0.931},
      {"s": "LM - QT₅ (0.760)", "x": 0.885, "y": 0.946},
      {"s": "LM - QT₅ (0.760)", "x": 0.905, "y": 0.956},
      {"s": "LM - QT₅ (0.760)", "x": 0.922, "y": 0.973},
      {"s": "LM - QT₅ (0.760)", "x": 0.947, "y": 0.988},
      {"s": "LM - QT₅ (0.760)", "x": 0.984, "y": 0.999},
      {"s": "LM - QT₅ (0.760)", "x": 1, "y": 1},

      {"s": "LM - QT₆ (0.753)", "x": 0, "y": 0},
      {"s": "LM - QT₆ (0.753)", "x": 0.002, "y": 0.1},
      {"s": "LM - QT₆ (0.753)", "x": 0.004, "y": 0.2},
      {"s": "LM - QT₆ (0.753)", "x": 0.0135, "y": 0.242},
      {"s": "LM - QT₆ (0.753)", "x": 0.031, "y": 0.3},
      {"s": "LM - QT₆ (0.753)", "x": 0.049, "y": 0.356},
      {"s": "LM - QT₆ (0.753)", "x": 0.066, "y": 0.401},
      {"s": "LM - QT₆ (0.753)", "x": 0.081, "y": 0.442},
      {"s": "LM - QT₆ (0.753)", "x": 0.098, "y": 0.501},
      {"s": "LM - QT₆ (0.753)", "x": 0.114, "y": 0.538},
      {"s": "LM - QT₆ (0.753)", "x": 0.131, "y": 0.588},
      {"s": "LM - QT₆ (0.753)", "x": 0.148, "y": 0.6},
      {"s": "LM - QT₆ (0.753)", "x": 0.195, "y": 0.641},
      {"s": "LM - QT₆ (0.753)", "x": 0.243, "y": 0.667},
      {"s": "LM - QT₆ (0.753)", "x": 0.263, "y": 0.678},
      {"s": "LM - QT₆ (0.753)", "x": 0.278, "y": 0.688},
      {"s": "LM - QT₆ (0.753)", "x": 0.295, "y": 0.699},
      {"s": "LM - QT₆ (0.753)", "x": 0.325, "y": 0.717},
      {"s": "LM - QT₆ (0.753)", "x": 0.349, "y": 0.725},
      {"s": "LM - QT₆ (0.753)", "x": 0.374, "y": 0.737},
      {"s": "LM - QT₆ (0.753)", "x": 0.399, "y": 0.751},
      {"s": "LM - QT₆ (0.753)", "x": 0.423, "y": 0.759},
      {"s": "LM - QT₆ (0.753)", "x": 0.45, "y": 0.77},
      {"s": "LM - QT₆ (0.753)", "x": 0.475, "y": 0.784},
      {"s": "LM - QT₆ (0.753)", "x": 0.5, "y": 0.792},
      {"s": "LM - QT₆ (0.753)", "x": 0.524, "y": 0.806},
      {"s": "LM - QT₆ (0.753)", "x": 0.547, "y": 0.82},
      {"s": "LM - QT₆ (0.753)", "x": 0.584, "y": 0.83},
      {"s": "LM - QT₆ (0.753)", "x": 0.621, "y": 0.845},
      {"s": "LM - QT₆ (0.753)", "x": 0.648, "y": 0.85},
      {"s": "LM - QT₆ (0.753)", "x": 0.675, "y": 0.858},
      {"s": "LM - QT₆ (0.753)", "x": 0.7, "y": 0.865},
      {"s": "LM - QT₆ (0.753)", "x": 0.724, "y": 0.875},
      {"s": "LM - QT₆ (0.753)", "x": 0.749, "y": 0.885},
      {"s": "LM - QT₆ (0.753)", "x": 0.774, "y": 0.896},
      {"s": "LM - QT₆ (0.753)", "x": 0.799, "y": 0.901},
      {"s": "LM - QT₆ (0.753)", "x": 0.823, "y": 0.911},
      {"s": "LM - QT₆ (0.753)", "x": 0.848, "y": 0.921},
      {"s": "LM - QT₆ (0.753)", "x": 0.873, "y": 0.931},
      {"s": "LM - QT₆ (0.753)", "x": 0.897, "y": 0.944},
      {"s": "LM - QT₆ (0.753)", "x": 0.917, "y": 0.961},
      {"s": "LM - QT₆ (0.753)", "x": 0.934, "y": 0.971},
      {"s": "LM - QT₆ (0.753)", "x": 0.959, "y": 0.991},
      {"s": "LM - QT₆ (0.753)", "x": 0.984, "y": 0.999},
      {"s": "LM - QT₆ (0.753)", "x": 1, "y": 1}
    ]
  },
  "mark": {"type": "line", "strokeWidth": 8.5, "strokeCap": "butt", "strokeJoin": "round"},
  "encoding": {
    "x": {
      "field": "x",
      "type": "quantitative",
      "scale": {"domain": [-0.1, 1.1], "nice": false, "zero": false},
      "axis": {"title": "1-Specificity", "values": [0, 0.2, 0.4, 0.6, 0.8, 1.0], "format": ".1f"}
    },
    "y": {
      "field": "y",
      "type": "quantitative",
      "scale": {"domain": [-0.1, 1.1], "nice": false, "zero": false},
      "axis": {"title": "Sensitivity", "values": [0, 0.2, 0.4, 0.6, 0.8, 1.0], "format": ".1f"}
    },
    "order": [{"field": "x", "type": "quantitative"}, {"field": "y", "type": "quantitative"}],
    "color": {
      "field": "s",
      "type": "nominal",
      "scale": {
        "domain": ["LMM - QT₁ (0.863)", "LMM - QT₂ (0.842)", "LMM - QT₃ (0.842)", "LMM - QT₄ (0.843)", "LMM - QT₅ (0.856)", "LMM - QT₆ (0.855)", "LM - QT₁ (0.777)", "LM - QT₂ (0.757)", "LM - QT₃ (0.777)", "LM - QT₄ (0.761)", "LM - QT₅ (0.760)", "LM - QT₆ (0.753)"],
        "range": ["#D96767", "#008000", "#1F3C64", "#96C8BF", "#8785AC", "#C98AA8", "#D96767", "#008000", "#1F3C64", "#96C8BF", "#8785AC", "#C98AA8"]
      },
      "legend": {
        "orient": "none",
        "legendX": 1847,
        "legendY": 940,
        "title": null,
        "symbolType": "stroke",
        "symbolSize": 11449,
        "symbolStrokeWidth": 8.5,
        "clipHeight": 46,
        "rowPadding": 25.5,
        "labelOffset": 27,
        "labelFontSize": 47,
        "labelColor": "black",
        "labelLimit": 0,
        "padding": 16,
        "fillColor": "white",
        "strokeColor": "#d5d5d5",
        "cornerRadius": 10,
        "encode": {"legend": {"update": {"strokeWidth": {"value": 5}}}}
      }
    },
    "strokeDash": {
      "field": "s",
      "type": "nominal",
      "scale": {
        "domain": ["LMM - QT₁ (0.863)", "LMM - QT₂ (0.842)", "LMM - QT₃ (0.842)", "LMM - QT₄ (0.843)", "LMM - QT₅ (0.856)", "LMM - QT₆ (0.855)", "LM - QT₁ (0.777)", "LM - QT₂ (0.757)", "LM - QT₃ (0.777)", "LM - QT₄ (0.761)", "LM - QT₅ (0.760)", "LM - QT₆ (0.753)"],
        "range": [[1, 0], [1, 0], [1, 0], [1, 0], [1, 0], [1, 0], [40, 17], [40, 17], [40, 17], [40, 17], [40, 17], [40, 17]]
      }
    }
  },
  "config": {
    "font": "DejaVu Sans",
    "view": {"stroke": null},
    "axis": {
      "grid": false,
      "domainColor": "black",
      "domainWidth": 4.4,
      "tickColor": "black",
      "tickWidth": 4.4,
      "tickSize": 19.4,
      "labelFontSize": 66.7,
      "labelColor": "black",
      "labelPadding": 19.4,
      "titleFontSize": 66.7,
      "titleFontWeight": "normal",
      "titleColor": "black",
      "labelFlush": false
    },
    "axisX": {"titlePadding": 44},
    "axisY": {"titlePadding": 46}
  }
}
